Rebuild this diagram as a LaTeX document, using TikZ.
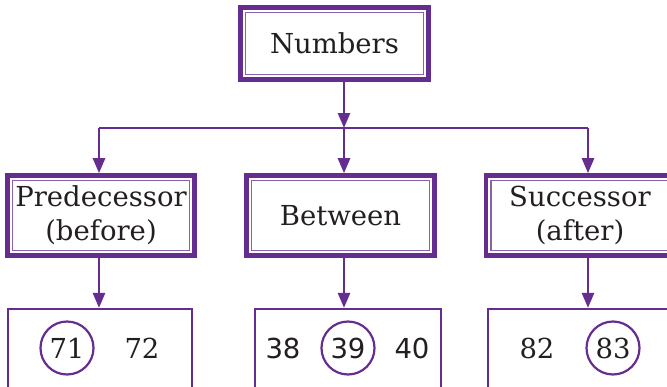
\documentclass[tikz,border=0pt]{standalone}
\usepackage{fontspec}
\setmainfont{DejaVu Serif}
\setsansfont{DejaVu Sans}
\usetikzlibrary{arrows.meta,positioning}
\definecolor{numpurple}{RGB}{102,45,145}
\definecolor{numink}{RGB}{35,31,32}

\begin{document}
\begin{tikzpicture}[x=1pt,y=-1pt]

\tikzset{
outerbox/.style={draw=numpurple,line width=4.6pt,minimum width=188pt,minimum height=80pt,inner sep=0pt},
innerbox/.style={draw=numpurple!75,line width=1.4pt,minimum width=178pt,minimum height=70pt,inner sep=0pt,align=center,text=numink,font=\fontsize{27.5}{34}\selectfont},
valbox/.style={draw=numpurple,line width=2.2pt,minimum width=184pt,minimum height=90pt,inner sep=0pt},
pick/.style={circle,draw=numpurple,line width=2.2pt,minimum size=53pt,inner sep=0pt},
val/.style={text=numink,font=\fontsize{27.5}{30}\selectfont,inner sep=0pt},
sansval/.style={val,font=\fontsize{27.5}{30}\sffamily},
link/.style={draw=numpurple,line width=2.6pt},
feed/.style={link,-{Triangle[width=12pt,length=15pt]}}
}

\useasboundingbox (0,0) rectangle (667,386);

% Nodes
\node[outerbox,minimum height=72pt] (numbers) at (334.5,43.5) {};
\node[innerbox,minimum height=62pt] (numbersin) at (numbers.center) {Numbers};

\node[outerbox,minimum width=187pt] (pred) at (101,215.5) {};
\node[innerbox,minimum width=177pt] (predin) at (pred.center) {Predecessor\\(before)};

\node[outerbox] (betw) at (340.5,215.5) {};
\node[innerbox] (betwin) at (betw.center) {Between};

\node[outerbox] (succ) at (580,215.5) {};
\node[innerbox] (succin) at (succ.center) {Successor\\(after)};

\node[valbox] (predvals) at (100,354) {};
\node[valbox,minimum width=186pt] (betwvals) at (348,354) {};
\node[valbox,minimum width=186pt] (succvals) at (581,354) {};

% Values
\node[pick,val] (v71) at (67,348) {71};
\node[val] (v72) at (142,348) {72};

\node[sansval] (v38) at (283,348) {38};
\node[pick,sansval] (v39) at (348,348) {39};
\node[sansval] (v40) at (412,348) {40};

\node[val] (v82) at (537,348) {82};
\node[pick,val] (v83) at (613,348) {83};

% Branching
\coordinate (split) at (344,128);
\coordinate (splitl) at (99,128);
\coordinate (splitr) at (588,128);

% Arrows
\draw[feed] (numbers.south -| split) -- (split);
\draw[link] (splitl) -- (splitr);

\draw[feed] (splitl) -- (pred.north -| splitl);
\draw[feed] (split) -- (betw.north -| split);
\draw[feed] (splitr) -- (succ.north -| splitr);

\draw[feed] (pred.south -| splitl) -- (predvals.north -| splitl);
\draw[feed] (betw.south -| split) -- (betwvals.north -| split);
\draw[feed] (succ.south -| splitr) -- (succvals.north -| splitr);

\end{tikzpicture}
\end{document}
